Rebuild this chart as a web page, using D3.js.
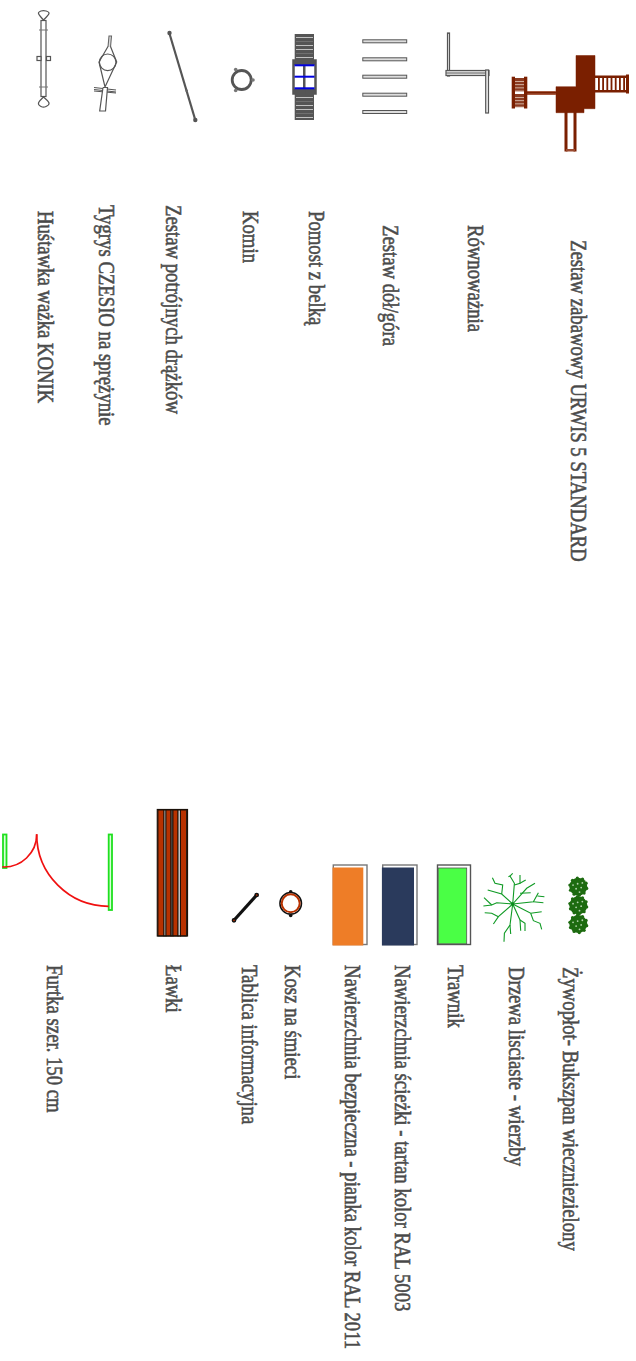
<!DOCTYPE html>
<html>
<head>
<meta charset="utf-8">
<script src="https://cdn.jsdelivr.net/npm/d3@7"></script>
<style>
  html, body { margin: 0; padding: 0; background: #fff; }
  svg { display: block; }
  text { font-family: "Liberation Serif", serif; font-size: 18px; fill: #484848; stroke: #555; stroke-width: 0.5px; }
</style>
</head>
<body>
<svg></svg>
<script>
var width = 636;
var height = 1361;

// Legend labels, two columns, rotated on the sheet
var labelsTop = ["Zestaw zabawowy URWIS 5 STANDARD", "Równoważnia", "Zestaw dół/góra", "Pomost z belką", "Komin", "Zestaw potrójnych drążków", "Tygrys CZESIO na sprężynie", "Huśtawka ważka KONIK"];
var labelsBottom = ["Żywopłot- Bukszpan wieczniezielony", "Drzewa lisciaste - wierzby", "Trawnik", "Nawierzchnia ścieżki - tartan kolor RAL 5003", "Nawierzchnia bezpieczna - pianka kolor RAL 2011", "Kosz na śmieci", "Tablica informacyjna", "Ławki", "Furtka szer. 150 cm"];

var surfaceColors = ["#4aff45", "#2a3a5c", "#ee7d27"];
var plankFills = ["#b83200", "#c9c9c9", "#b83200", "#6a6a6a", "#b83200", "#c0c0c0", "#b83200"];
var plankWidths = [6, 2, 5, 2, 5, 2.5, 6];
var treeBranches = [
  [[0, 0], [1.7, -20.7], [-2.7, -28], [0, -30.7]],
  [[-2.7, -28], [-4.3, -27.3]],
  [[1.7, -19], [7.3, -20.7], [7.3, -29]],
  [[7.3, -20.7], [13, -24]],
  [[0, 0], [14, -15.7], [22.3, -20.7]],
  [[7.3, -10.7], [18, -11.3]],
  [[0, 0], [20.7, -2.3], [25.7, -11.3]],
  [[20.7, -2.3], [30.7, -1.3]],
  [[24.7, -8], [31.7, -7.3]],
  [[0, 0], [18, 9.3], [29, 7.7]],
  [[18, 9.3], [20.7, 16.7], [27.3, 19.3], [29, 25.3]],
  [[0, 0], [7.3, 16], [8, 26.7]],
  [[7.3, 16], [12.3, 19.3], [12.3, 27]],
  [[0, 0], [-2.7, 21], [-8.3, 29.3], [-8.7, 37.7]],
  [[-2.7, 21], [-2, 30]],
  [[0, 0], [-14.3, 12.7], [-19.3, 20]],
  [[-14.3, 12.7], [-21, 9.3], [-28, 8.7]],
  [[0, 0], [-16, -1.3], [-21, 1], [-29.3, 2]],
  [[-21, 1], [-28.7, -6.3]],
  [[0, 0], [-11, -10], [-25, -14]],
  [[-11, -10], [-10, -19], [-17.7, -20.7], [-20.3, -26.3]]
];

var svg = d3.select("svg")
  .attr("width", width)
  .attr("height", height);

// Where each row of the legend sits
var xTop = d3.scaleOrdinal().domain(labelsTop).range([571, 467.5, 382.5, 309, 243, 166, 98.5, 38]);
var yTop = d3.scaleOrdinal().domain(labelsTop).range([240, 225, 225, 211, 211, 205, 205, 211]);
var xBottom = d3.scaleOrdinal().domain(labelsBottom).range([562.5, 508.5, 447.5, 395, 345, 285, 242, 166, 47]);
var yBottom = d3.scaleOrdinal().domain(labelsBottom).range([967, 967, 965, 965, 965, 965, 965, 965, 965]);

function addLabels(labels, x, y) {
  svg.selectAll(null)
    .data(labels)
    .enter()
    .append("text")
    .attr("transform", function(d) { return "translate(" + x(d) + "," + y(d) + ") rotate(90) scale(1.04,1.28)"; })
    .text(function(d) { return d; });
}
addLabels(labelsTop, xTop, yTop);
addLabels(labelsBottom, xBottom, yBottom);

function rect(g, x0, y0, x1, y1, fill, stroke, sw) {
  return g.append("rect").attr("x", x0).attr("y", y0).attr("width", x1 - x0).attr("height", y1 - y0)
    .attr("fill", fill).attr("stroke", stroke || "none").attr("stroke-width", sw || 0);
}
function line(g, pts, stroke, sw, fill, curve) {
  return g.append("path").attr("d", d3.line().curve(curve || d3.curveLinear)(pts)).attr("fill", fill || "none")
    .attr("stroke", stroke).attr("stroke-width", sw);
}
function circle(g, cx, cy, r, fill, stroke, sw) {
  return g.append("circle").attr("cx", cx).attr("cy", cy).attr("r", r)
    .attr("fill", fill).attr("stroke", stroke || "none").attr("stroke-width", sw || 0);
}

// Playset
var wood = "#7a1f00";
var play = svg.append("g");
line(play, [[576, 55.5], [595, 55.5], [595, 108.7], [584, 108.7], [584, 112.7], [556, 112.7], [556, 86.7], [576, 86.7], [576, 55.5]], wood, 0.5, wood);
rect(play, 595, 75.5, 627, 78, wood);
rect(play, 595, 90, 627, 92.5, wood);
d3.range(598, 627, 4.2).forEach(function(x) { rect(play, x, 76, x + 1.8, 92, wood); });
rect(play, 626, 74.5, 629, 93.5, wood);
rect(play, 526, 91, 556, 95, "#a85a40");
rect(play, 526, 92, 556, 93.5, wood);
rect(play, 564.5, 112, 567.5, 151.5, wood);
rect(play, 573.5, 112, 576.5, 151.5, wood);
rect(play, 566, 149, 575, 151.5, "#9a4a30");
rect(play, 511.7, 76.7, 515, 108.5, wood);
rect(play, 524, 76.7, 527.3, 108.5, wood);
rect(play, 515, 78, 524, 107, "#8a3a20");
d3.range(81, 107, 3.2).forEach(function(y) { if (Math.abs(y - 93) > 2) rect(play, 515, y, 524, y + 0.9, "#d8b8a8"); });
rect(play, 515, 91.5, 524, 94, "#fff");

// Balance beam
var beam = svg.append("g");
rect(beam, 447.5, 33, 449.5, 76, "#eee", "#555", 1.2);
rect(beam, 446, 70.5, 489, 75.5, "#ddd", "#555", 1.2);
line(beam, [[446, 73], [489, 73]], "#666", 1);
rect(beam, 485.7, 70, 488.5, 113, "#eee", "#555", 1.2);

// Up and down set
var upDown = svg.append("g");
[39.8, 57.8, 75.2, 93.2, 110.5].forEach(function(y) {
  rect(upDown, 362.8, y, 406.7, y + 3, "#ddd", "#555", 1);
});

// Platform with beam
var platform = svg.append("g");
rect(platform, 294.7, 34, 314, 120, "#555");
d3.range(37, 118, 4).forEach(function(y, i) {
  if (y > 58 && y < 95) return;
  rect(platform, 296, y, 313, y + 0.8, i % 3 == 1 ? "#777" : "#ddd");
});
rect(platform, 293.5, 60.5, 315.5, 93.5, "#fff", "#555", 2.5);
rect(platform, 293.5, 60, 315.5, 65, "#555");
rect(platform, 293.5, 89, 315.5, 94, "#555");
rect(platform, 303, 60, 305.5, 94, "#555");
[65.3, 76.7, 88.3].forEach(function(y) { rect(platform, 294.5, y - 1, 314.5, y + 1, "#0000e0"); });

// Chimney
var komin = svg.append("g");
circle(komin, 241.7, 80, 9.5, "none", "#555", 2.8);
[[235.7, 69.5], [253, 80], [235.7, 90.5]].forEach(function(p) { circle(komin, p[0], p[1], 1.8, "#777"); });

// Triple bars
var bars = svg.append("g");
line(bars, [[169.3, 33], [195.3, 120]], "#555", 2.2);
circle(bars, 169.5, 33, 2.2, "#555");
circle(bars, 195.3, 120, 2.2, "#555");
circle(bars, 186.7, 90.7, 1.3, "#666");

// Spring tiger
var tiger = svg.append("g");
circle(tiger, 107.7, 62.3, 8.3, "#fff", "#555", 1.2);
line(tiger, [[108, 46.5], [99, 62], [105, 87], [116.7, 62], [110.5, 46.5]], "#555", 1.2);
line(tiger, [[108, 47], [109, 36], [111.5, 36], [110.5, 47]], "#666", 1.1, "#ddd");
line(tiger, [[94, 87.5], [116, 90]], "#555", 1.2);
line(tiger, [[94, 89.5], [116, 92]], "#555", 1.2);
line(tiger, [[94, 91], [116, 93]], "#555", 1);
line(tiger, [[103, 87.5], [107.5, 87.5], [105.5, 111], [99.7, 111], [103, 87.5]], "#555", 1.2, "#fff");

// Seesaw
var seesaw = svg.append("g");
rect(seesaw, 41, 20.5, 46, 96.5, "#fff", "#555", 1.2);
line(seesaw, [[43.5, 20], [38.5, 13.5], [41, 11], [46, 11], [49, 13.5], [43.5, 20]], "#555", 1.2, "#fff", d3.curveCardinal);
line(seesaw, [[43.5, 97], [38.5, 103], [41, 106.5], [46, 106.5], [49, 103], [43.5, 97]], "#555", 1.2, "#fff", d3.curveCardinal);
rect(seesaw, 37, 56.5, 41, 60.5, "#fff", "#555", 1.2);
rect(seesaw, 46.5, 56.5, 50.5, 60.5, "#fff", "#555", 1.2);
line(seesaw, [[39, 30], [48, 30]], "#777", 1);
line(seesaw, [[39, 87], [48, 87]], "#777", 1);

// Surfaces
var surfaceX = d3.scaleOrdinal().domain(surfaceColors).range([[437.5, 466.7, 470.5], [382.7, 414, 417], [333.3, 363.3, 367]]);
surfaceColors.forEach(function(c, i) {
  var b = surfaceX(c);
  rect(svg, b[0], 865, b[2], 944.5, "#fff", i == 0 ? "#555" : "#777", 1.4);
  if (i == 0) rect(svg, b[0] + 0.7, 868, b[1], 943.8, c, "#555", 0.8);
  else rect(svg, b[0] - 0.8, 867.5, b[1], 945.5, c);
});

// Tree
var tree = svg.append("g").attr("transform", "translate(512.7,904)");
treeBranches.forEach(function(b) { line(tree, b, "#0f9a24", 1.1); });
circle(tree, 0, 0, 1.7, "#0a8a1c");

// Hedge
[886.7, 905.3, 924].forEach(function(y) {
  var g = svg.append("g").attr("transform", "translate(578.3," + y + ")");
  circle(g, 0, 0, 9, "#1d6b10");
  d3.range(0, 10).forEach(function(i) {
    var a = i * Math.PI / 5 + 0.2;
    circle(g, 8.6 * Math.cos(a), 8.6 * Math.sin(a), 1.6, "#1d6b10");
  });
  d3.range(0, 6).forEach(function(i) {
    var a = i * Math.PI / 3 + 0.3;
    circle(g, (3 + i % 2 * 2.5) * Math.cos(a), (3 + i % 2 * 2.5) * Math.sin(a), 0.9, "#b5d4b0");
  });
});

// Bin
var bin = svg.append("g");
circle(bin, 290.7, 891.7, 1.8, "#111");
circle(bin, 290.7, 915.5, 1.8, "#111");
circle(bin, 290.7, 903.3, 10.8, "#fff", "#111", 1.5);
circle(bin, 290.7, 903.3, 9, "#fff", "#b83200", 2);

// Info board
var board = svg.append("g");
line(board, [[234, 920.3], [256.7, 895]], "#111", 3.2);
[[234, 920.3], [256.7, 895]].forEach(function(p) { circle(board, p[0], p[1], 1.6, "#b83200", "#111", 1.5); });

// Benches
var bench = svg.append("g");
var plankX = 158;
plankFills.forEach(function(c, i) {
  rect(bench, plankX, 810, plankX + plankWidths[i], 936, c, "#1a1008", 0.9);
  plankX += plankWidths[i];
});
rect(bench, 157.3, 809.5, 187.5, 936, "none", "#1a1008", 1.2);

// Gate
var gate = svg.append("g");
rect(gate, 3, 834.5, 6.5, 868, "#d8ffd8", "#1fe01f", 1.8);
rect(gate, 108.7, 834.5, 112, 910, "#d8ffd8", "#1fe01f", 1.8);
var smallArc = d3.path();
smallArc.arc(4, 834.3, 32.7, 0, Math.PI / 2 + 0.05);
var bigArc = d3.path();
bigArc.arc(108.7, 834.3, 72, Math.PI, Math.PI / 2, true);
gate.append("path").attr("d", smallArc.toString()).attr("fill", "none").attr("stroke", "#f01010").attr("stroke-width", 1.7);
gate.append("path").attr("d", bigArc.toString()).attr("fill", "none").attr("stroke", "#f01010").attr("stroke-width", 1.7);
</script>
</body>
</html>
